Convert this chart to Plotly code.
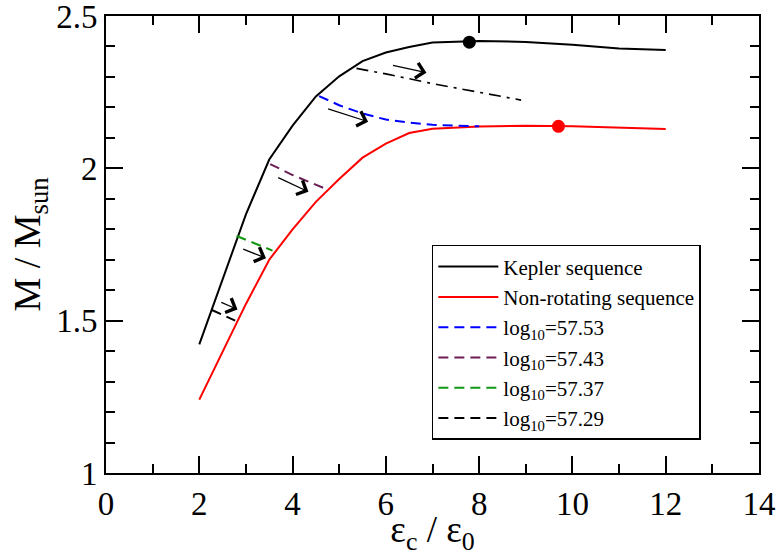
import plotly.graph_objects as go

# Kepler sequence
kep_x = [2, 2.5, 3, 3.5, 4, 4.5, 5, 5.5, 6, 6.5, 7, 8, 9, 10, 11, 12]
kep_y = [1.422, 1.635, 1.849, 2.029, 2.14, 2.236, 2.302, 2.352, 2.380, 2.398, 2.413, 2.418, 2.415, 2.406, 2.393, 2.388]
# Non-rotating sequence
non_x = [2, 2.5, 3, 3.5, 4, 4.5, 5, 5.5, 6, 6.5, 7, 8, 9, 10, 11, 12]
non_y = [1.241, 1.398, 1.555, 1.70, 1.80, 1.89, 1.965, 2.035, 2.081, 2.116, 2.13, 2.137, 2.14, 2.138, 2.134, 2.129]
# constant angular-momentum sequences
j5753_x = [4.57, 5.0, 5.5, 6.0, 6.5, 7.0, 7.5, 8.0]
j5753_y = [2.237, 2.207, 2.180, 2.160, 2.150, 2.143, 2.140, 2.138]
j5743_x = [3.52, 4.0, 4.77]
j5743_y = [2.014, 1.978, 1.929]
j5737_x = [2.80, 3.2, 3.57]
j5737_y = [1.778, 1.752, 1.730]
j5729_x = [2.27, 2.77]
j5729_y = [1.535, 1.500]
# dash-dot (unlabelled)
dd_x = [5.37, 6.0, 7.0, 8.0, 8.9]
dd_y = [2.328, 2.310, 2.278, 2.250, 2.224]
# maximum-mass points
kep_max = (7.79, 2.414)
non_max = (9.70, 2.138)
# arrows: (tail_x, tail_y, head_x, head_y)
arrows = [
    (6.12, 2.339, 6.87, 2.314),
    (4.73, 2.197, 5.62, 2.153),
    (3.66, 1.972, 4.34, 1.923),
    (2.91, 1.737, 3.43, 1.705),
    (2.44, 1.562, 2.82, 1.537),
]

FONT = "Liberation Serif"
fig = go.Figure()
fig.add_trace(go.Scatter(x=kep_x, y=kep_y, mode="lines", name="Kepler sequence",
                         line=dict(color="black", width=2)))
fig.add_trace(go.Scatter(x=non_x, y=non_y, mode="lines", name="Non-rotating sequence",
                         line=dict(color="#FF0000", width=2)))
fig.add_trace(go.Scatter(x=j5753_x, y=j5753_y, mode="lines", name="log<sub>10</sub>=57.53",
                         line=dict(color="#0000FF", width=2, dash="10px,6px")))
fig.add_trace(go.Scatter(x=j5743_x, y=j5743_y, mode="lines", name="log<sub>10</sub>=57.43",
                         line=dict(color="#6B1F55", width=2, dash="10px,6px")))
fig.add_trace(go.Scatter(x=j5737_x, y=j5737_y, mode="lines", name="log<sub>10</sub>=57.37",
                         line=dict(color="#119911", width=2, dash="10px,6px")))
fig.add_trace(go.Scatter(x=j5729_x, y=j5729_y, mode="lines", name="log<sub>10</sub>=57.29",
                         line=dict(color="black", width=2, dash="10px,6px")))
fig.add_trace(go.Scatter(x=dd_x, y=dd_y, mode="lines", showlegend=False,
                         line=dict(color="black", width=1.6, dash="12px,6px,3px,6px")))
fig.add_trace(go.Scatter(x=[kep_max[0]], y=[kep_max[1]], mode="markers", showlegend=False,
                         marker=dict(color="black", size=13)))
fig.add_trace(go.Scatter(x=[non_max[0]], y=[non_max[1]], mode="markers", showlegend=False,
                         marker=dict(color="#FF0000", size=13)))

for tx, ty, hx, hy in arrows:
    fig.add_annotation(x=hx, y=hy, ax=tx, ay=ty, xref="x", yref="y", axref="x", ayref="y",
                       showarrow=True, arrowhead=4, arrowsize=2.3, arrowwidth=1.3,
                       arrowcolor="black", text="")

axis_common = dict(showline=True, linecolor="black", linewidth=2, mirror="ticks",
                   ticks="inside", ticklen=17, tickwidth=2, tickcolor="black",
                   showgrid=False, zeroline=False, automargin=False,
                   ticklabeloverflow="allow",
                   tickfont=dict(family=FONT, size=33, color="black"))
fig.update_xaxes(range=[0, 14], dtick=2, tick0=0,
                 minor=dict(ticks="inside", ticklen=9, tickwidth=2, tickcolor="black", dtick=1),
                 title=dict(text="ε<sub>c</sub> / ε<sub>0</sub>", font=dict(family=FONT, size=37, color="black"),
                            standoff=0),
                 **axis_common)
fig.update_yaxes(range=[1, 2.5], dtick=0.5, tick0=1,
                 minor=dict(ticks="inside", ticklen=9, tickwidth=2, tickcolor="black", dtick=0.1),
                 title=dict(text="M / M<sub>sun</sub>", font=dict(family=FONT, size=38, color="black"),
                            standoff=4),
                 **axis_common)

fig.update_layout(
    width=779, height=556,
    margin=dict(l=106, r=20, t=16, b=83),
    paper_bgcolor="white", plot_bgcolor="white",
    font=dict(family=FONT, color="black"),
    legend=dict(x=0.499, y=0.499, xanchor="left", yanchor="top",
                bgcolor="white", bordercolor="black", borderwidth=1.5,
                font=dict(family=FONT, size=21, color="black"),
                tracegroupgap=0, itemwidth=60),
)

# remove the page's default 8px body margin so the figure fills the window exactly
fig.write_html("out.html", config={"displayModeBar": False},
               post_script="document.body.style.margin='0px';")
